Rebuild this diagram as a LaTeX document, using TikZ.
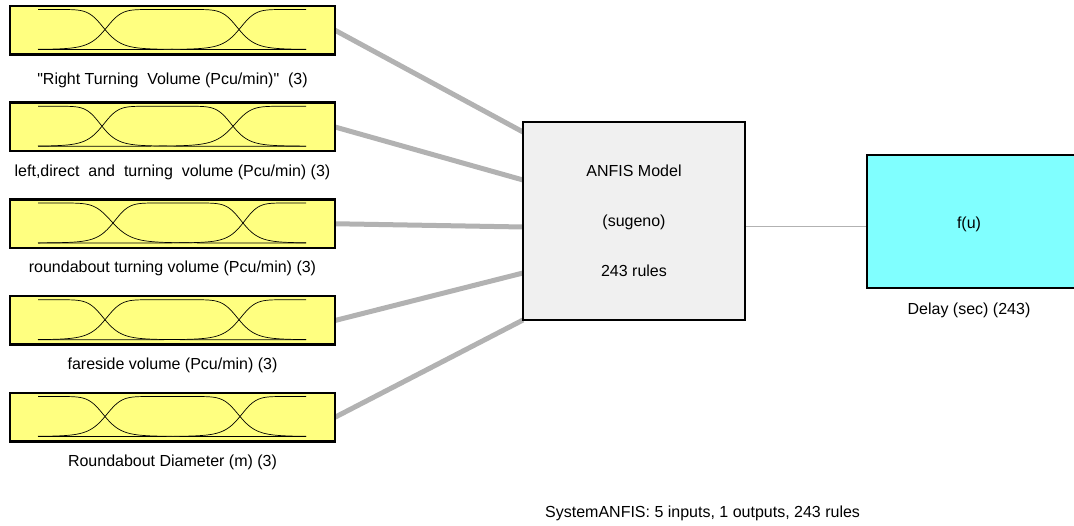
\documentclass[tikz,border=0pt]{standalone}
\usepackage{fontspec}
\setmainfont{Liberation Sans}[Ligatures=TeXOff]
\usetikzlibrary{backgrounds,calc}
\definecolor{inyellow}{RGB}{255,255,128}
\definecolor{fisgray}{RGB}{240,240,240}
\definecolor{outcyan}{RGB}{128,255,255}
\definecolor{conngray}{RGB}{178,178,178}
\newcommand{\drawmfs}[3]{%
  \pgfmathsetmacro{\mfB}{#1+43.5}%
  \pgfmathsetmacro{\mfcm}{(#2+#3)/2}%
  \pgfmathsetmacro{\mfal}{#2-38}%
  \pgfmathsetmacro{\mfam}{(#3-#2)/2}%
  \pgfmathsetmacro{\mfar}{306-#3}%
  \draw[mfline] plot[domain=38:306,samples=140] (\x,{\mfB-40/(1+min(abs((\x-38)/\mfal),3)^8)});
  \draw[mfline] plot[domain=38:306,samples=140] (\x,{\mfB-40/(1+min(abs((\x-\mfcm)/\mfam),3)^8)});
  \draw[mfline] plot[domain=38:306,samples=140] (\x,{\mfB-40/(1+min(abs((\x-306)/\mfar),3)^8)});
}
\begin{document}
\begin{tikzpicture}[x=1pt,y=-1pt,
  every node/.style={font=\fontsize{16}{19}\selectfont},
  inbox/.style={draw=black, fill=inyellow, line width=2.5pt, minimum width=325pt,
    minimum height=48.5pt, inner sep=0pt, outer sep=0pt, anchor=north west},
  fisbox/.style={draw=black, fill=fisgray, line width=2.5pt, minimum width=222pt,
    minimum height=198pt, inner sep=0pt, outer sep=0pt, anchor=north west},
  outbox/.style={draw=black, fill=outcyan, line width=2.5pt, minimum width=212pt,
    minimum height=133pt, inner sep=0pt, outer sep=0pt, anchor=north west},
  txt/.style={anchor=base, inner sep=0pt},
  mfline/.style={black, line width=0.7pt},
  conn/.style={conngray, line width=5pt},
  thinconn/.style={conngray, line width=1pt}
]
\useasboundingbox (0,0) rectangle (1074,526);
\clip (0,0) rectangle (1074,526);

% input boxes
\node[inbox] (in1) at (10,6) {};
\node[inbox] (in2) at (10,102.75) {};
\node[inbox] (in3) at (10,199.5) {};
\node[inbox] (in4) at (10,296.25) {};
\node[inbox] (in5) at (10,393) {};

\drawmfs{6}{105}{239}
\drawmfs{102.75}{102}{233}
\drawmfs{199.5}{113}{243}
\drawmfs{296.25}{105}{239}
\drawmfs{393}{105}{240}

\node[txt] (l1) at (172.5,85) {"Right Turning\ \ Volume (Pcu/min)"\ \ (3)};
\node[txt] (l2) at (172.5,177) {left,direct\ \ and\ \ turning\ \ volume (Pcu/min) (3)};
\node[txt] (l3) at (172.5,273) {roundabout turning volume (Pcu/min) (3)};
\node[txt] (l4) at (172.5,370) {fareside volume (Pcu/min) (3)};
\node[txt] (l5) at (172.5,467) {Roundabout Diameter (m) (3)};

% FIS box
\node[fisbox] (anfis) at (523,122) {};
\node[txt] (t1) at (634,177) {ANFIS Model};
\node[txt] (t2) at (634,227) {(sugeno)};
\node[txt] (t3) at (634,277) {243 rules};

% output box
\node[outbox] (out) at (867,155) {};
\node[txt] (fu) at (969,229) {f(u)};
\node[txt] (ol) at (969,315) {Delay (sec) (243)};

\node[txt, anchor=base west] (sys) at (545,517) {SystemANFIS: 5 inputs, 1 outputs, 243 rules};

% connectors
\coordinate (e1) at ($(anfis.north west)!0.0505!(anfis.south west)$);
\coordinate (e2) at ($(anfis.north west)!0.2929!(anfis.south west)$);
\coordinate (e3) at ($(anfis.north west)!0.5303!(anfis.south west)$);
\coordinate (e4) at ($(anfis.north west)!0.7626!(anfis.south west)$);
\coordinate (e5) at ($(anfis.north west)!1.0!(anfis.south west)$);
\coordinate (o1) at ($(anfis.north east)!0.5303!(anfis.south east)$);
\coordinate (o2) at (out.west |- o1);
\begin{scope}[on background layer]
\draw[conn] (in1.east) -- (e1);
\draw[conn] (in2.east) -- (e2);
\draw[conn] (in3.east) -- (e3);
\draw[conn] (in4.east) -- (e4);
\draw[conn] (in5.east) -- (e5);
\draw[thinconn] (o1) -- (o2);
\end{scope}
\end{tikzpicture}
\end{document}
